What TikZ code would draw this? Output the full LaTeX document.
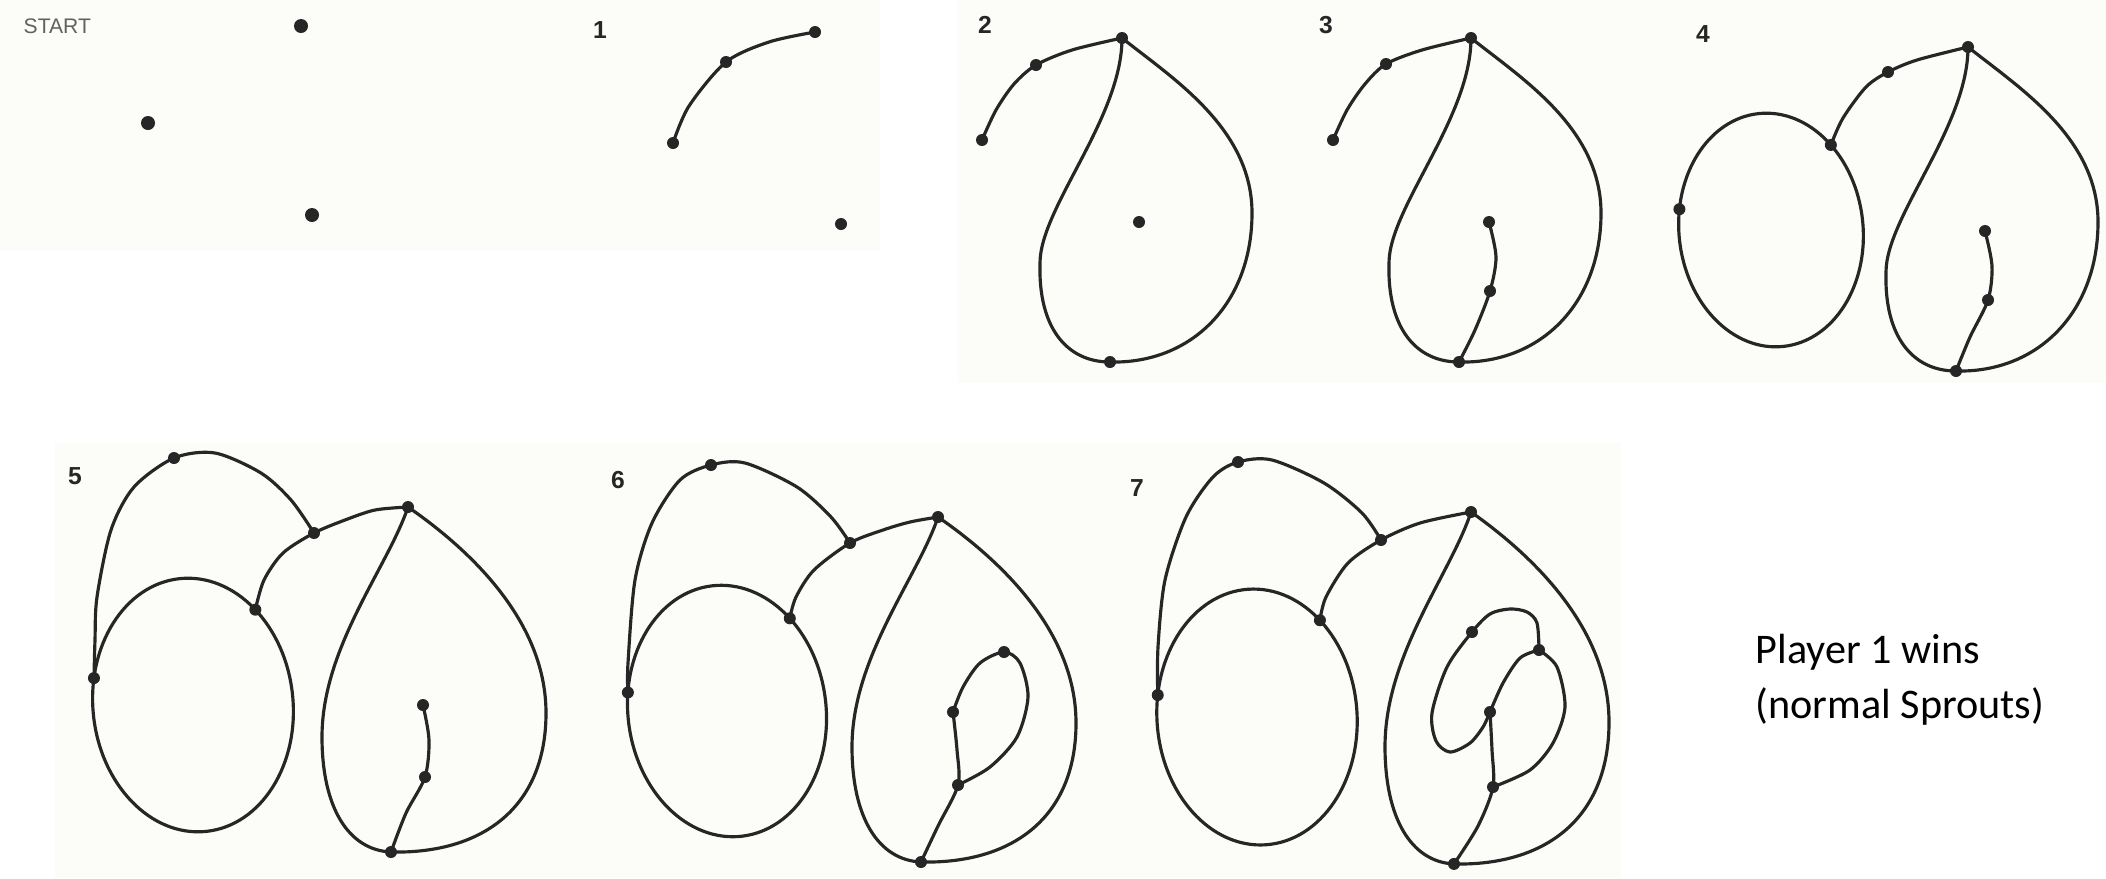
\documentclass[tikz,border=0pt]{standalone}
\usepackage{fontspec}
\setmainfont{Liberation Sans}
\newfontfamily\calfont{Carlito}
\definecolor{ink}{RGB}{38,38,38}
\definecolor{paper}{RGB}{252,252,249}
\newcommand\teardroptop[2]{\draw[curve] (#1) .. controls (50,40) and (130,90) .. (130,175) .. controls (130,265) and (70,326) .. (#2) .. controls (-55,324) and (-84,290) .. (-82,225) .. controls (-82,170) and (0,80) .. (#1);}
\newcommand\teardropbot[2]{\draw[curve] (#1) .. controls (55,38) and (138,110) .. (138,206) .. controls (138,300) and (75,347) .. (#2) .. controls (-60,343) and (-86,300) .. (-86,230) .. controls (-86,140) and (-20,60) .. (#1);}
\begin{document}
\begin{tikzpicture}[x=0.01cm,y=-0.01cm,
  curve/.style={draw=ink, line width=0.9pt, line cap=round, line join=round},
  sdot/.style={circle, fill=ink, draw=none, inner sep=0pt, minimum size=0.12cm},
  bigdot/.style={sdot, minimum size=0.14cm},
  numlbl/.style={text=ink, font=\fontsize{7}{8}\selectfont\bfseries, inner sep=0pt},
  startlbl/.style={text=black!62, font=\fontsize{6}{7}\selectfont, inner sep=0pt, anchor=west},
  wintxt/.style={text=black, font=\calfont\fontsize{12}{15}\selectfont, inner sep=0pt, anchor=base west}]
\useasboundingbox (0,0) rectangle (2106,878);
\fill[white] (0,0) rectangle (2106,878);
\fill[paper] (0,0) rectangle (880,250);
\fill[paper] (958,0) rectangle (2106,383);
\fill[paper] (55,442) rectangle (1621,878);

% labels
\node[startlbl] (lstart) at (23,26) {START};
\node[numlbl] (l1) at (600,30) {1};
\node[numlbl] (l2) at (985,25) {2};
\node[numlbl] (l3) at (1326,25) {3};
\node[numlbl] (l4) at (1703,34) {4};
\node[numlbl] (l5) at (75,476) {5};
\node[numlbl] (l6) at (618,480) {6};
\node[numlbl] (l7) at (1137,488) {7};
\node[wintxt] (w1) at (1755,663) {Player 1 wins};
\node[wintxt] (w2) at (1755,718) {(normal Sprouts)};

% START
\coordinate (s1) at (301,26);
\coordinate (s2) at (148,123);
\coordinate (s3) at (312,215);

% panel 1
\coordinate (a1) at (673,143);
\coordinate (b1) at (726,62);
\coordinate (c1) at (815,32);
\coordinate (f1) at (841,224);
\draw[curve] plot[smooth] coordinates {(a1) (689,106) (b1) (769,42) (c1)};

% panel 2
\coordinate (a2) at (982,140);
\coordinate (b2) at (1036,65);
\coordinate (m2) at (1139,222);
\begin{scope}[shift={(1122,38)}]
  \coordinate (T2) at (0,0);
  \coordinate (B2) at (-12,324);
  \teardroptop{T2}{B2}
\end{scope}
\draw[curve] plot[smooth] coordinates {(a2) (996,110) (1014,84) (b2) (1072,50) (T2)};

% panel 3
\coordinate (a3) at (1333,140);
\coordinate (b3) at (1386,64);
\coordinate (i3) at (1489,222);
\coordinate (j3) at (1490,291);
\begin{scope}[shift={(1471,38)}]
  \coordinate (T3) at (0,0);
  \coordinate (B3) at (-12,324);
  \teardroptop{T3}{B3}
\end{scope}
\draw[curve] plot[smooth] coordinates {(a3) (1347,110) (1365,84) (b3) (1422,50) (T3)};
\draw[curve] plot[smooth] coordinates {(i3) (1496,257) (j3) (1475,330) (B3)};

% panel 4
\coordinate (b4) at (1888,72);
\coordinate (i4) at (1985,231);
\coordinate (j4) at (1988,300);
\begin{scope}[shift={(1968,47)}]
  \coordinate (T4) at (0,0);
  \coordinate (B4) at (-12,324);
  \teardroptop{T4}{B4}
\end{scope}
\begin{scope}[shift={(1771,230)}, rotate=6]
  \draw[curve] (0,0) ellipse [x radius=0.92cm, y radius=1.17cm];
  \coordinate (E4) at (42:0.92cm and 1.17cm);
  \coordinate (L4) at (165:0.92cm and 1.17cm);
\end{scope}
\draw[curve] plot[smooth] coordinates {(E4) (1843,118) (1866,87) (b4) (1917,60) (T4)};
\draw[curve] plot[smooth] coordinates {(i4) (1992,266) (j4) (1970,337) (B4)};

% panel 5
\coordinate (t5) at (174,458);
\coordinate (J5) at (314,533);
\coordinate (i5) at (423,705);
\coordinate (j5) at (425,777);
\begin{scope}[shift={(408,507)}]
  \coordinate (T5) at (0,0);
  \coordinate (B5) at (-17,345);
  \teardropbot{T5}{B5}
\end{scope}
\begin{scope}[shift={(193,705)}, rotate=6]
  \draw[curve] (0,0) ellipse [x radius=1cm, y radius=1.27cm];
  \coordinate (E5) at (44:1cm and 1.27cm);
  \coordinate (L5) at (163:1cm and 1.27cm);
\end{scope}
\draw[curve] plot[smooth] coordinates {(L5) (95,640) (97,597) (111,530) (134,487) (t5) (215,453) (261,473) (291,500) (J5)};
\draw[curve] plot[smooth] coordinates {(E5) (264,580) (283,553) (J5) (345,520) (375,510) (T5)};
\draw[curve] plot[smooth] coordinates {(i5) (429,740) (j5) (406,813) (B5)};

% panel 6
\coordinate (t6) at (711,465);
\coordinate (J6) at (850,543);
\coordinate (A6) at (1004,652);
\coordinate (C6) at (953,712);
\coordinate (D6) at (958,785);
\begin{scope}[shift={(938,517)}]
  \coordinate (T6) at (0,0);
  \coordinate (B6) at (-17,345);
  \teardropbot{T6}{B6}
\end{scope}
\begin{scope}[shift={(727,711)}, rotate=7]
  \draw[curve] (0,0) ellipse [x radius=0.99cm, y radius=1.26cm];
  \coordinate (E6) at (42:0.99cm and 1.26cm);
  \coordinate (L6) at (166:0.99cm and 1.26cm);
\end{scope}
\draw[curve] plot[smooth] coordinates {(L6) (628,663) (635,580) (652,523) (680,480) (t6) (745,463) (797,487) (831,517) (J6)};
\draw[curve] plot[smooth] coordinates {(E6) (796,597) (814,570) (J6) (883,530) (910,522) (T6)};
\draw[curve] plot[smooth] coordinates {(C6) (963,687) (980,663) (A6) (1020,663) (1028,697) (1017,737) (990,767) (D6)};
\draw[curve] plot[smooth] coordinates {(C6) (957,750) (D6) (938,826) (B6)};

% panel 7
\coordinate (t7) at (1238,462);
\coordinate (J7) at (1381,540);
\coordinate (A7) at (1472,632);
\coordinate (Q7) at (1539,650);
\coordinate (C7) at (1490,712);
\coordinate (D7) at (1493,787);
\begin{scope}[shift={(1471,512)}, yscale=1.02]
  \coordinate (T7) at (0,0);
  \coordinate (B7) at (-17,345);
  \teardropbot{T7}{B7}
\end{scope}
\begin{scope}[shift={(1257,717)}, rotate=4]
  \draw[curve] (0,0) ellipse [x radius=1cm, y radius=1.28cm];
  \coordinate (E7) at (46:1cm and 1.28cm);
  \coordinate (L7) at (167:1cm and 1.28cm);
\end{scope}
\draw[curve] plot[smooth] coordinates {(L7) (1158,647) (1165,580) (1186,517) (1213,477) (t7) (1272,460) (1324,483) (1362,513) (J7)};
\draw[curve] plot[smooth] coordinates {(E7) (1326,597) (1348,563) (J7) (1420,523) (T7)};
\draw[curve] plot[smooth] coordinates {(Q7) (1537,623) (1527,612) (1510,609) (1490,614) (A7) (1447,667) (1432,713) (1436,741) (1450,752) (1470,743) (1483,727) (C7)};
\draw[curve] plot[smooth] coordinates {(Q7) (1520,658) (1503,683) (C7)};
\draw[curve] plot[smooth] coordinates {(Q7) (1557,667) (1565,707) (1553,743) (1530,770) (D7)};
\draw[curve] plot[smooth] coordinates {(C7) (1492,750) (D7) (1478,826) (B7)};

% dots
\foreach \p in {s1,s2,s3} \node[bigdot] (d\p) at (\p) {};
\foreach \p in {a1,b1,c1,f1,a2,b2,T2,B2,m2,a3,b3,T3,B3,i3,j3,L4,E4,b4,T4,B4,i4,j4,L5,t5,J5,E5,T5,B5,i5,j5,L6,t6,J6,E6,T6,B6,A6,C6,D6,L7,t7,J7,E7,T7,B7,A7,Q7,C7,D7}
  \node[sdot] (d\p) at (\p) {};
\end{tikzpicture}
\end{document}
